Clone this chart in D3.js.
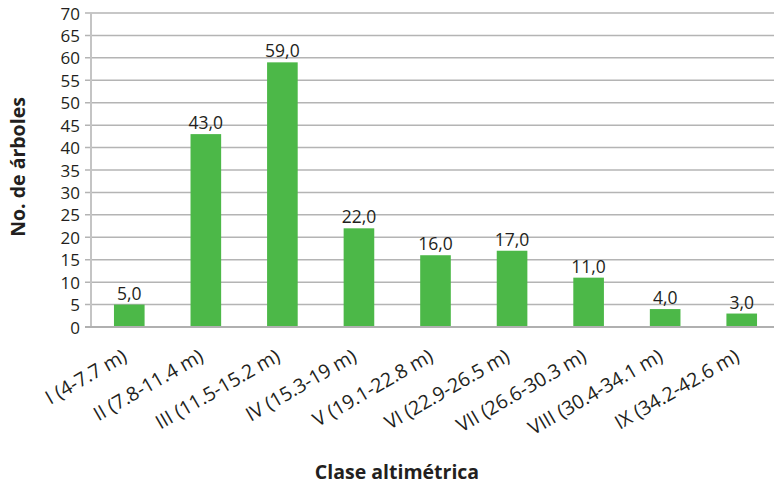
<!DOCTYPE html>
<html>
<head>
<meta charset="utf-8">
<script src="https://cdn.jsdelivr.net/npm/d3@7"></script>
<style>
  body { margin: 0; background: #fff; }
  svg { display: block; }
</style>
</head>
<body>
<div class="chart-container"></div>
<script>
const SVG_WIDTH = 774;
const SVG_HEIGHT = 488;

const classes = [
    "I (4-7.7 m)",
    "II (7.8-11.4 m)",
    "III (11.5-15.2 m)",
    "IV (15.3-19 m)",
    "V (19.1-22.8 m)",
    "VI (22.9-26.5 m)",
    "VII (26.6-30.3 m)",
    "VIII (30.4-34.1 m)",
    "IX (34.2-42.6 m)"
];
const trees = [5, 43, 59, 22, 16, 17, 11, 4, 3];
const yTicks = [0, 5, 10, 15, 20, 25, 30, 35, 40, 45, 50, 55, 60, 65, 70];

const FONT = "'Open Sans', 'Noto Sans', sans-serif";
const GREEN = "#4cb848";
const GRID = "#b4b4b4";

// plot area (right edge runs past the picture, like the original)
const margin = { left: 91, top: 13, right: 780, bottom: 327 };

const svg = d3.select(".chart-container")
    .append("svg")
    .attr("width", SVG_WIDTH)
    .attr("height", SVG_HEIGHT);

const x = d3.scaleBand()
    .domain(classes)
    .range([margin.left, margin.right])
    .paddingInner(0.6)
    .paddingOuter(0.3);

const y = d3.scaleLinear()
    .domain([0, 70])
    .range([margin.bottom, margin.top]);

// gridlines
svg.append("g")
    .selectAll("line")
    .data(yTicks)
    .join("line")
    .attr("x1", margin.left - 6)
    .attr("x2", SVG_WIDTH)
    .attr("y1", d => y(d))
    .attr("y2", d => y(d))
    .attr("stroke", GRID)
    .attr("stroke-width", 1.5);

// y axis line
svg.append("line")
    .attr("x1", margin.left)
    .attr("x2", margin.left)
    .attr("y1", y(70))
    .attr("y2", y(0))
    .attr("stroke", "#c4c4c4")
    .attr("stroke-width", 2);

// y tick labels
svg.append("g")
    .selectAll("text")
    .data(yTicks)
    .join("text")
    .attr("x", margin.left - 11)
    .attr("y", d => y(d))
    .attr("text-anchor", "end")
    .attr("dominant-baseline", "central")
    .style("font-family", FONT)
    .style("font-size", "17px")
    .attr("fill", "#231f20")
    .text(d => d);

// bars
svg.append("g")
    .selectAll("rect")
    .data(trees)
    .join("rect")
    .attr("x", (d, i) => x(classes[i]))
    .attr("y", d => y(d))
    .attr("width", x.bandwidth())
    .attr("height", d => y(0) - y(d))
    .attr("fill", GREEN);

// value labels
svg.append("g")
    .selectAll("text")
    .data(trees)
    .join("text")
    .attr("x", (d, i) => x(classes[i]) + x.bandwidth() / 2)
    .attr("y", d => y(d) - 5)
    .attr("text-anchor", "middle")
    .style("font-family", FONT)
    .style("font-size", "17.5px")
    .attr("fill", "#231f20")
    .text(d => d.toFixed(1).replace(".", ","));

// x axis line
svg.append("line")
    .attr("x1", margin.left - 6)
    .attr("x2", SVG_WIDTH)
    .attr("y1", y(0))
    .attr("y2", y(0))
    .attr("stroke", "#b0b0b0")
    .attr("stroke-width", 2);

// category labels
svg.append("g")
    .selectAll("text")
    .data(classes)
    .join("text")
    .attr("transform", d => `translate(${x(d) + x.bandwidth() / 2 - 1}, ${y(0) + 33}) rotate(-30)`)
    .attr("text-anchor", "end")
    .style("font-family", FONT)
    .style("font-size", "19.5px")
    .attr("fill", "#231f20")
    .text(d => d);

// axis titles
svg.append("text")
    .attr("transform", `translate(25, 167) rotate(-90)`)
    .attr("text-anchor", "middle")
    .style("font-family", FONT)
    .style("font-size", "19.5px")
    .style("font-weight", "700")
    .attr("fill", "#231f20")
    .text("No. de árboles");

svg.append("text")
    .attr("x", 397)
    .attr("y", 479)
    .attr("text-anchor", "middle")
    .style("font-family", FONT)
    .style("font-size", "19.5px")
    .style("font-weight", "700")
    .attr("fill", "#231f20")
    .text("Clase altimétrica");
</script>
</body>
</html>
